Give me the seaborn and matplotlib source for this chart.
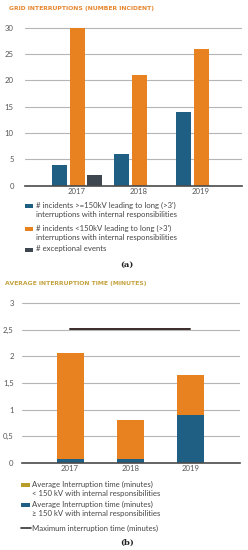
import matplotlib
matplotlib.use("Agg")
import matplotlib.pyplot as plt
import seaborn as sns
import pandas as pd
from matplotlib.patches import Rectangle
from matplotlib.lines import Line2D

# ---------------- data ----------------
years = ["2017", "2018", "2019"]
incidents_ge150 = [4, 6, 14]
incidents_lt150 = [30, 21, 26]
exceptional_events = [2, 0, 0]

avg_time_lt150 = [2.0, 0.74, 0.76]
avg_time_ge150 = [0.07, 0.07, 0.90]
max_time = [2.52, 2.52, 2.52]

top_series = ["# incidents >=150kV leading to long (>3')\ninterruptions with internal responsibilities",
              "# incidents <150kV leading to long (>3')\ninterruptions with internal responsibilities",
              "# exceptional events"]
bottom_series = ["Average Interruption time (minutes)\n< 150 kV with internal responsibilities",
                 "Average Interruption time (minutes)\n\u2265 150 kV with internal responsibilities",
                 "Maximum interruption time (minutes)"]
top_yticks = [0, 5, 10, 15, 20, 25, 30]
bottom_yticks = [0, 0.5, 1, 1.5, 2, 2.5, 3]
bottom_yticklabels = ["0", "0,5", "1", "1,5", "2", "2,5", "3"]
title_top = "GRID INTERRUPTIONS (NUMBER INCIDENT)"
title_bottom = "AVERAGE INTERRUPTION TIME (MINUTES)"

# ---------------- style ----------------
sns.set_theme(style="white")
plt.rcParams["font.family"] = ["Lato", "DejaVu Sans"]

C_BLUE = "#1f5f83"
C_ORANGE = "#e8811f"
C_GREY = "#3e4650"
C_OLIVE = "#b89c2a"
C_LINE = "#3a2a2a"
TXT = "#555555"
LEG_FS = 5.6

W, H = 248, 550
fig = plt.figure(figsize=(W / 100, H / 100), dpi=100)


def fx(x):
    return x / W


def fy(y):
    return 1 - y / H


def add_axes_px(left, right, top, bottom):
    return fig.add_axes([fx(left), fy(bottom), (right - left) / W, (bottom - top) / H])


def style_axes(ax):
    for s in ["top", "right", "left"]:
        ax.spines[s].set_visible(False)
    ax.spines["bottom"].set_color("#4a4a4a")
    ax.spines["bottom"].set_linewidth(1.2)
    ax.yaxis.grid(True, color="#b5b5b5", linewidth=0.8)
    ax.set_axisbelow(True)
    ax.set_xlabel("")
    ax.set_ylabel("")
    ax.tick_params(axis="both", length=0, labelsize=5.6, labelcolor=TXT)


# ---------------- top chart ----------------
df_top = pd.DataFrame({
    "year": years * 3,
    "value": incidents_ge150 + incidents_lt150 + exceptional_events,
    "series": [top_series[0]] * 3 + [top_series[1]] * 3 + [top_series[2]] * 3,
})
ax1 = add_axes_px(25, 242, 19.7, 185.7)
sns.barplot(data=df_top, x="year", y="value", hue="series", hue_order=top_series,
            palette=[C_BLUE, C_ORANGE, C_GREY], width=0.85, gap=0.15,
            legend=False, ax=ax1, saturation=1, linewidth=0)
ax1.set_ylim(0, 31.5)
ax1.set_xlim(-0.84, 2.66)
ax1.set_yticks(top_yticks)
style_axes(ax1)
ax1.tick_params(axis="y", pad=8)
ax1.tick_params(axis="x", pad=1.5)

fig.text(fx(9), fy(8.5), title_top, fontsize=4.4, fontweight="bold", color="#e8872f",
         family="DejaVu Sans", va="center", ha="left")

# legend top
leg_top = [(C_BLUE, 206), (C_ORANGE, 229), (C_GREY, 250)]
for (c, y), lab in zip(leg_top, top_series):
    fig.add_artist(Rectangle((fx(25), fy(y + 2)), 8 / W, 4 / H, transform=fig.transFigure,
                             color=c, lw=0))
    fig.text(fx(35.5), fy(y - 4.5), lab, fontsize=LEG_FS, color="#444444", va="top", ha="left",
             linespacing=1.4)
fig.text(fx(127), fy(265), "(a)", fontsize=6, color="#222222", family="DejaVu Serif",
         fontweight="bold", ha="center", va="center")

# ---------------- bottom chart ----------------
total_time = [a + b for a, b in zip(avg_time_lt150, avg_time_ge150)]
ax2 = add_axes_px(22, 240, 292.4, 463)
sns.barplot(x=years, y=total_time, color=C_ORANGE, width=0.45, saturation=1, linewidth=0, ax=ax2)
sns.barplot(x=years, y=avg_time_ge150, color=C_BLUE, width=0.45, saturation=1, linewidth=0, ax=ax2)
sns.lineplot(x=[0, 1, 2], y=max_time, color=C_LINE, linewidth=1.4, ax=ax2)
ax2.set_ylim(0, 3.2)
ax2.set_xlim(-0.8, 2.83)
ax2.set_yticks(bottom_yticks)
ax2.set_yticklabels(bottom_yticklabels)
style_axes(ax2)
ax2.tick_params(axis="y", pad=6)
ax2.tick_params(axis="x", pad=1.5)

fig.text(fx(5), fy(284), title_bottom, fontsize=4.4, fontweight="bold", color="#c4a23e",
         family="DejaVu Sans", va="center", ha="left")

leg_bot = [(C_OLIVE, 485), (C_BLUE, 505)]
for (c, y), lab in zip(leg_bot, bottom_series[:2]):
    fig.add_artist(Rectangle((fx(21), fy(y + 2)), 9 / W, 4 / H, transform=fig.transFigure,
                             color=c, lw=0))
    fig.text(fx(32.5), fy(y - 4.5), lab, fontsize=LEG_FS, color="#444444", va="top", ha="left",
             linespacing=1.4)
fig.add_artist(Line2D([fx(21), fx(31)], [fy(528), fy(528)], transform=fig.transFigure,
                      color="#333333", lw=1.2))
fig.text(fx(32.5), fy(528), bottom_series[2], fontsize=LEG_FS, color="#444444", va="center",
         ha="left")
fig.text(fx(127), fy(543), "(b)", fontsize=6, color="#222222", family="DejaVu Serif",
         fontweight="bold", ha="center", va="center")

fig.savefig("out.png", dpi=100)
